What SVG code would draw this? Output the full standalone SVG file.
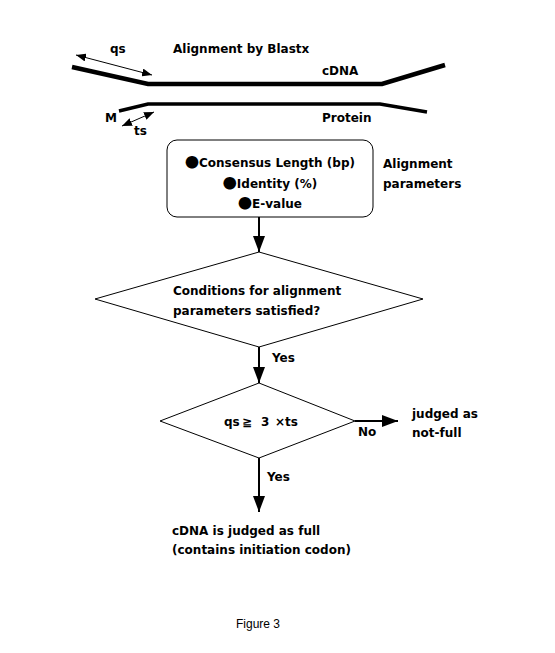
<svg xmlns="http://www.w3.org/2000/svg" width="555" height="653" viewBox="0 0 555 653">
<defs>
<style>
text{font-family:"DejaVu Sans","Liberation Sans",Arial,sans-serif;font-size:12px;font-weight:bold;fill:#000}
.bul{font-family:"Noto Sans CJK JP","DejaVu Sans",sans-serif;font-size:14px}
.thin{stroke:#000;stroke-width:1;fill:none}
.conn{stroke:#000;stroke-width:2;fill:none}
.shape{fill:#fff;stroke:#000;stroke-width:1}
</style>
<marker id="ah" viewBox="0 0 16 12" refX="16" refY="6" markerWidth="16" markerHeight="12" markerUnits="userSpaceOnUse" orient="auto-start-reverse">
<path d="M0,0 L16,6 L0,12 Z" fill="#000"/>
</marker>
<marker id="sh" viewBox="0 0 10 8" refX="10" refY="4" markerWidth="10" markerHeight="8" markerUnits="userSpaceOnUse" orient="auto-start-reverse">
<path d="M0,0 L10,4 L0,8 Z" fill="#000"/>
</marker>
</defs>
<rect width="555" height="653" fill="#fff"/>
<g id="alignment">
<polyline points="72,67 148,84 382,84 445,65" fill="none" stroke="#000" stroke-width="4.5"/>
<polyline points="119,111 148,104 380,104 427,112" fill="none" stroke="#000" stroke-width="3.5"/>
<line class="thin" x1="76" y1="55" x2="152" y2="75" marker-start="url(#sh)" marker-end="url(#sh)"/>
<line class="thin" x1="122" y1="126" x2="154" y2="112" marker-start="url(#sh)" marker-end="url(#sh)"/>
<text x="110" y="53">qs</text>
<text x="173" y="53">Alignment by Blastx</text>
<text x="322" y="75">cDNA</text>
<text x="105" y="122">M</text>
<text x="134" y="135">ts</text>
<text x="322" y="122">Protein</text>
</g>
<g id="params">
<rect class="shape" x="167" y="140" width="206" height="77" rx="10"/>
<text x="270" y="167" text-anchor="middle"><tspan class="bul">●</tspan>Consensus Length (bp)</text>
<text x="270" y="188" text-anchor="middle"><tspan class="bul">●</tspan>Identity (%)</text>
<text x="270" y="208" text-anchor="middle"><tspan class="bul">●</tspan>E-value</text>
<text x="383" y="168">Alignment</text>
<text x="383" y="188">parameters</text>
</g>
<g id="cond1">
<polygon class="shape" points="259,252 423,299 259,347 95,299"/>
<text x="173" y="295">Conditions for alignment</text>
<text x="173" y="315">parameters satisfied?</text>
</g>
<g id="cond2">
<polygon class="shape" points="259,383 355,421 259,458 160,421"/>
<text y="426"><tspan x="224">qs</tspan><tspan x="242">≧</tspan><tspan x="261">3</tspan><tspan x="275">×ts</tspan></text>
</g>
<g id="notfull">
<text x="412" y="418">judged as</text>
<text x="412" y="437">not-full</text>
</g>
<g id="full">
<text x="172" y="535">cDNA is judged as full</text>
<text x="172" y="554">(contains initiation codon)</text>
</g>
<g id="connectors">
<line class="conn" x1="259" y1="217" x2="259" y2="252" marker-end="url(#ah)"/>
<line class="conn" x1="259" y1="347" x2="259" y2="383" marker-end="url(#ah)"/>
<line class="conn" x1="355" y1="421" x2="398" y2="421" marker-end="url(#ah)"/>
<line class="conn" x1="259" y1="458" x2="259" y2="512" marker-end="url(#ah)"/>
<text x="272" y="362">Yes</text>
<text x="358" y="436">No</text>
<text x="267" y="481">Yes</text>
</g>
<text x="236" y="628" style="font-family:'Liberation Sans',Arial,sans-serif;font-weight:normal;font-size:12px">Figure 3</text>
</svg>
